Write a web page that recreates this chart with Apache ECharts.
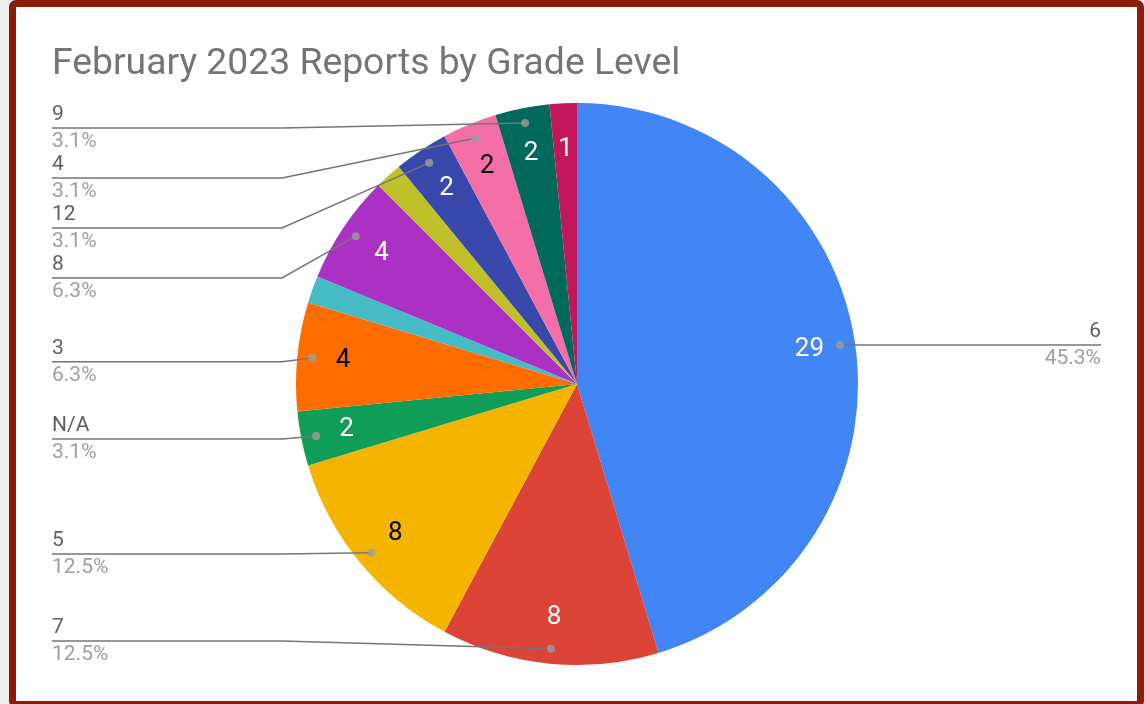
<!DOCTYPE html>
<html>
<head>
<meta charset="utf-8">
<script src="https://cdn.jsdelivr.net/npm/echarts@6/dist/echarts.min.js"></script>
<style>
  html, body { margin: 0; padding: 0; background: #eeeeee; }
  .frame {
    position: absolute; left: 9px; top: 0; width: 1135px; height: 708px;
    box-sizing: border-box; border: 7px solid #8c1c08; border-radius: 7px; background: #fff;
  }
  #chart { position: absolute; left: 0; top: 0; width: 1144px; height: 704px; }
</style>
</head>
<body>
<div class="frame"></div>
<div id="chart"></div>
<script>
// 数据（按扇区顺时针顺序，从 12 点方向开始）
const grades = ['6', '7', '5', 'N/A', '3', '10', '8', '11', '12', '4', '9', '2'];
const reports = [29, 8, 8, 2, 4, 1, 4, 1, 2, 2, 2, 1];
const sliceColors = ['#4285f4', '#db4437', '#f4b400', '#0f9d58', '#ff6d00', '#46bdc6',
                     '#ab30c4', '#c0c02a', '#3949ab', '#f46fa6', '#00695c', '#c2185b'];
const darkText = ['5', '3', '4'];        // 浅色扇区上用黑字
const noInnerLabel = ['10', '11'];       // 太窄，不显示内部数值
const noOuterLabel = ['10', '11', '2'];  // 不显示外部标签

// 饼图几何
const CX = 577, CY = 384, R = 281;
const R_DOT = 266;
const LABEL_LEFT = 52, LABEL_RIGHT = 1101;

const total = reports.reduce((a, b) => a + b, 0);
const pct = v => (v / total * 100).toFixed(1) + '%';

const chart = echarts.init(document.getElementById('chart'));

const sliceData = grades.map((g, i) => ({ name: g, value: reports[i], itemStyle: { color: sliceColors[i] } }));

const innerData = grades.map((g, i) => ({
    name: g, value: reports[i],
    label: {
        show: noInnerLabel.indexOf(g) < 0,
        color: darkText.indexOf(g) >= 0 ? '#000' : '#fff'
    }
}));

const outerData = grades.map((g, i) => ({
    name: g, value: reports[i],
    label: { show: noOuterLabel.indexOf(g) < 0 },
    labelLine: { show: noOuterLabel.indexOf(g) < 0 }
}));

// 外部标签引线起点的小圆点
const dotData = [];
let acc = 0;
grades.forEach((g, i) => {
    if (noOuterLabel.indexOf(g) < 0) dotData.push([R_DOT, acc + reports[i] / 2]);
    acc += reports[i];
});

chart.setOption({
    animation: false,
    textStyle: { fontFamily: 'Roboto, sans-serif' },
    title: {
        text: 'February 2023 Reports by Grade Level',
        left: 52, top: 46, padding: 0,
        textStyle: { fontSize: 37.3, fontWeight: 'normal', color: '#757575' }
    },
    polar: { center: [CX, CY], radius: R },
    angleAxis: { type: 'value', min: 0, max: total, startAngle: 90, clockwise: true, show: false },
    radiusAxis: { type: 'value', min: 0, max: R, show: false },
    series: [
        {
            type: 'pie',
            z: 1,
            center: [CX, CY], radius: [0, R],
            startAngle: 90, clockwise: true,
            silent: true,
            label: { show: false }, labelLine: { show: false },
            data: sliceData
        },
        {
            // 内部数值
            type: 'pie',
            z: 2,
            center: [CX, CY], radius: [183, R],
            startAngle: 90, clockwise: true,
            silent: true,
            itemStyle: { color: 'transparent' },
            label: { position: 'inside', fontSize: 26, formatter: '{c}' },
            labelLine: { show: false },
            data: innerData
        },
        {
            // 外部名称 + 百分比
            type: 'pie',
            z: 3,
            top: CY - R, bottom: 0,
            center: [CX, R], radius: [0, R_DOT],
            startAngle: 90, clockwise: true,
            silent: true,
            itemStyle: { color: 'transparent' },
            label: {
                position: 'outside',
                alignTo: 'none',
                formatter: p => '{n|' + p.name + '}\n{p|' + pct(p.value) + '}',
                rich: {
                    n: { fontSize: 21, lineHeight: 24, color: '#5f5f5f', verticalAlign: 'top' },
                    p: { fontSize: 21, lineHeight: 24, color: '#9e9e9e', verticalAlign: 'bottom' }
                }
            },
            labelLine: { show: true, length: 0, length2: 0, lineStyle: { color: '#757575', width: 1.5 } },
            labelLayout: function (params) {
                const pts = params.labelLinePoints;
                if (!pts) return {};
                const rect = params.labelRect;
                // 底部标签不超出饼图下沿
                const ly = Math.min(rect.y + rect.height / 2, CY + R - rect.height / 2);
                const a = pts[0];
                if (a[0] < CX) {
                    return {
                        x: LABEL_LEFT, y: ly, align: 'left',
                        labelLinePoints: [a, [CX - R - 14, ly], [LABEL_LEFT, ly]]
                    };
                }
                return {
                    x: LABEL_RIGHT, y: ly, align: 'right',
                    labelLinePoints: [a, [a[0], ly], [LABEL_RIGHT, ly]]
                };
            },
            data: outerData
        },
        {
            type: 'scatter',
            coordinateSystem: 'polar',
            silent: true,
            symbolSize: 8,
            itemStyle: { color: '#9e9e9e' },
            z: 10,
            data: dotData
        }
    ]
});
</script>
</body>
</html>
